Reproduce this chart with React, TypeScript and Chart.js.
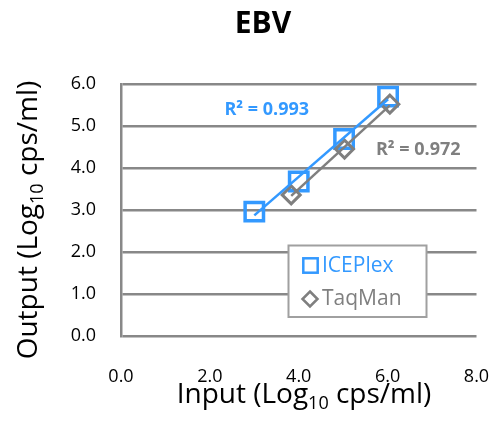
import React, { useEffect, useRef } from 'react';
import { Chart, registerables } from 'chart.js';

Chart.register(...registerables);

// ---- data ----
const icePlexInput = [3.0, 4.0, 5.02, 6.01];
const icePlexOutput = [2.96, 3.68, 4.69, 5.7];
const taqManInput = [3.83, 5.03, 6.05];
const taqManOutput = [3.36, 4.45, 5.52];
const seriesNames = ['ICEPlex', 'TaqMan'];
const r2Labels = ['R² = 0.993', 'R² = 0.972'];
const chartTitle = 'EBV';
const xTitleParts: [string, boolean][] = [['Input (Log', false], ['10', true], [' cps/ml)', false]];
const yTitleParts: [string, boolean][] = [['Output (Log', false], ['10', true], [' cps/ml)', false]];
const xRange = [0, 8];
const yRange = [0, 6];
const xStep = 2;
const yStep = 1;

const BLUE = '#3399FF';
const GRAY = '#7F7F7F';
const GRID = '#888888';
const FONT = "'Open Sans', 'Noto Sans', sans-serif";

function trend(xs: number[], ys: number[]) {
  const n = xs.length;
  const mx = xs.reduce((a, b) => a + b, 0) / n;
  const my = ys.reduce((a, b) => a + b, 0) / n;
  let sxy = 0;
  let sxx = 0;
  for (let i = 0; i < n; i++) {
    sxy += (xs[i] - mx) * (ys[i] - my);
    sxx += (xs[i] - mx) * (xs[i] - mx);
  }
  const b = sxy / sxx;
  const a = my - b * mx;
  const lo = Math.min(...xs);
  const hi = Math.max(...xs);
  return [
    { x: lo, y: a + b * lo },
    { x: hi, y: a + b * hi },
  ];
}

function drawParts(
  ctx: CanvasRenderingContext2D,
  parts: [string, boolean][],
  cx: number,
  baseline: number,
  size: number,
  color: string
) {
  const subSize = Math.round(size * 0.65);
  const widths = parts.map(([t, sub]) => {
    ctx.font = `${sub ? subSize : size}px ${FONT}`;
    return ctx.measureText(t).width;
  });
  const total = widths.reduce((a, b) => a + b, 0);
  let x = cx - total / 2;
  ctx.fillStyle = color;
  ctx.textAlign = 'left';
  ctx.textBaseline = 'alphabetic';
  parts.forEach(([t, sub], i) => {
    ctx.font = `${sub ? subSize : size}px ${FONT}`;
    ctx.fillText(t, x, baseline + (sub ? size * 0.22 : 0));
    x += widths[i];
  });
}

const decorPlugin = {
  id: 'decor',
  afterDraw(chart: any) {
    const ctx: CanvasRenderingContext2D = chart.ctx;
    const xs = chart.scales.x;
    const ys = chart.scales.y;
    ctx.save();

    // title
    ctx.font = `bold 30px ${FONT}`;
    ctx.fillStyle = '#000';
    ctx.textAlign = 'center';
    ctx.textBaseline = 'alphabetic';
    ctx.fillText(chartTitle, 263, 33);

    // axis titles
    drawParts(ctx, xTitleParts, 304, 403, 28, '#000');
    ctx.save();
    ctx.translate(37, 220);
    ctx.rotate(-Math.PI / 2);
    drawParts(ctx, yTitleParts, 0, 0, 28, '#000');
    ctx.restore();

    // R² labels
    ctx.font = `bold 18px ${FONT}`;
    ctx.textAlign = 'center';
    ctx.textBaseline = 'middle';
    ctx.fillStyle = BLUE;
    ctx.fillText(r2Labels[0], xs.getPixelForValue(3.28), ys.getPixelForValue(5.38));
    ctx.fillStyle = GRAY;
    ctx.fillText(r2Labels[1], xs.getPixelForValue(6.69), ys.getPixelForValue(4.43));

    // legend box
    const lx = 288.5;
    const ly = 245.5;
    const lw = 138;
    const lh = 71.5;
    ctx.fillStyle = '#fff';
    ctx.fillRect(lx, ly, lw, lh);
    ctx.strokeStyle = '#a0a0a0';
    ctx.lineWidth = 2;
    ctx.strokeRect(lx, ly, lw, lh);

    // entry 1: square
    ctx.strokeStyle = BLUE;
    ctx.lineWidth = 2.5;
    ctx.strokeRect(310.5 - 7.2, 265.5 - 7.2, 14.4, 14.4);
    // entry 2: diamond
    ctx.strokeStyle = GRAY;
    ctx.beginPath();
    const dx = 310;
    const dy = 299;
    const r = 7.5;
    ctx.moveTo(dx, dy - r);
    ctx.lineTo(dx + r, dy);
    ctx.lineTo(dx, dy + r);
    ctx.lineTo(dx - r, dy);
    ctx.closePath();
    ctx.stroke();

    ctx.font = `21px ${FONT}`;
    ctx.textAlign = 'left';
    ctx.textBaseline = 'middle';
    ctx.fillStyle = BLUE;
    ctx.fillText(seriesNames[0], 322, 266);
    ctx.fillStyle = GRAY;
    ctx.fillText(seriesNames[1], 322, 299);

    ctx.restore();
  },
};

export default function App() {
  const ref = useRef<HTMLCanvasElement | null>(null);

  useEffect(() => {
    if (!ref.current) return;
    const icePts = icePlexInput.map((x, i) => ({ x, y: icePlexOutput[i] }));
    const taqPts = taqManInput.map((x, i) => ({ x, y: taqManOutput[i] }));

    const chart = new Chart(ref.current, {
      type: 'scatter',
      data: {
        datasets: [
          {
            label: seriesNames[0] + ' trend',
            data: trend(icePlexInput, icePlexOutput),
            showLine: true,
            borderColor: BLUE,
            borderWidth: 2.5,
            pointRadius: 0,
            order: 0,
          },
          {
            label: seriesNames[1],
            data: taqPts,
            pointStyle: 'rectRot',
            pointRadius: 9,
            borderWidth: 3,
            borderColor: GRAY,
            backgroundColor: 'rgba(0,0,0,0)',
            order: 1,
          },
          {
            label: seriesNames[1] + ' trend',
            data: trend(taqManInput, taqManOutput),
            showLine: true,
            borderColor: GRAY,
            borderWidth: 2.5,
            pointRadius: 0,
            order: 2,
          },
          {
            label: seriesNames[0],
            data: icePts,
            pointStyle: 'rect',
            pointRadius: 13,
            borderWidth: 3.5,
            borderColor: BLUE,
            backgroundColor: 'rgba(0,0,0,0)',
            order: 3,
          },
        ],
      } as any,
      options: {
        animation: false,
        responsive: false,
        devicePixelRatio: 1,
        layout: { padding: { left: 0, top: 84, right: 15, bottom: 0 } },
        plugins: {
          legend: { display: false },
          tooltip: { enabled: false },
          title: { display: false },
        },
        scales: {
          x: {
            type: 'linear',
            min: xRange[0],
            max: xRange[1],
            ticks: {
              stepSize: xStep,
              callback: (v: any) => Number(v).toFixed(1),
              font: { size: 18, family: FONT },
              color: '#000',
              padding: 0,
            },
            grid: {
              display: true,
              drawOnChartArea: false,
              drawTicks: true,
              tickLength: 30,
              color: 'rgba(0,0,0,0)',
            },
            border: { display: false },
            afterFit: (s: any) => {
              s.height = 100;
            },
          },
          y: {
            type: 'linear',
            min: yRange[0],
            max: yRange[1],
            ticks: {
              stepSize: yStep,
              callback: (v: any) => Number(v).toFixed(1),
              font: { size: 18, family: FONT },
              color: '#000',
              padding: 25,
            },
            grid: { color: GRID, lineWidth: 2.5, drawTicks: false },
            border: { display: true, color: GRID, width: 2.5 },
            afterFit: (s: any) => {
              s.width = 121;
            },
          },
        },
      } as any,
      plugins: [decorPlugin],
    });
    return () => chart.destroy();
  }, []);

  return (
    <div style={{ position: 'fixed', left: 0, top: 0, width: 493, height: 436, background: '#fff' }}>
      <canvas ref={ref} width={493} height={436} style={{ display: 'block', width: 493, height: 436 }} />
    </div>
  );
}
